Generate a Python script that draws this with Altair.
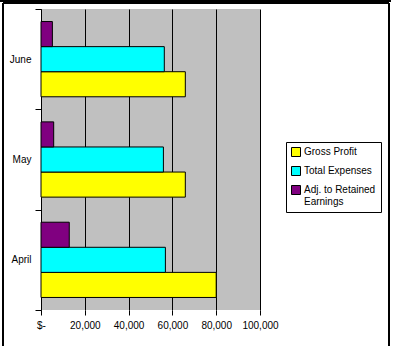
import altair as alt
import pandas as pd

months = ["June", "May", "April"]
series = ["Gross Profit", "Total Expenses", "Adj. to Retained Earnings"]
gross_profit = [65900, 65900, 80000]
total_expenses = [56300, 55900, 56800]
adj_retained = [5200, 5800, 12900]
colors = ["#FFFF00", "#00FFFF", "#800080"]
x_ticks = [0, 20000, 40000, 60000, 80000, 100000]

rows = []
for i, m in enumerate(months):
    rows.append({"month": m, "series": series[0], "value": gross_profit[i]})
    rows.append({"month": m, "series": series[1], "value": total_expenses[i]})
    rows.append({"month": m, "series": series[2], "value": adj_retained[i]})
df = pd.DataFrame(rows)

FONT = "Liberation Sans"

bars = alt.Chart(df).mark_bar(stroke="black", strokeWidth=1).encode(
    x=alt.X("value:Q",
            scale=alt.Scale(domain=[0, 100000], nice=False),
            axis=alt.Axis(values=x_ticks, title=None, grid=True, gridColor="black",
                          gridOpacity=1, gridWidth=1, domain=False,
                          tickColor="black", tickSize=5, labelPadding=5,
                          labelExpr="datum.value == 0 ? '$-' : format(datum.value, ',')",
                          labelFont=FONT, labelFontSize=10, labelColor="black",
                          labelFlush=False)),
    y=alt.Y("month:N", sort=months,
            scale=alt.Scale(paddingInner=0, paddingOuter=0),
            axis=alt.Axis(title=None, tickBand="extent", tickColor="black", tickSize=6,
                          domainColor="black", labelFont=FONT, labelFontSize=10,
                          labelColor="black", labelPadding=4, grid=False)),
    yOffset=alt.YOffset("series:N", sort=series[::-1],
                        scale=alt.Scale(paddingInner=0, paddingOuter=0.5)),
    color=alt.Color("series:N",
                    scale=alt.Scale(domain=series, range=colors),
                    legend=alt.Legend(title=None, orient="none", legendX=245, legendY=133,
                                      strokeColor="black", fillColor="white", padding=5,
                                      symbolType="square", symbolSize=81,
                                      symbolStrokeColor="black", symbolStrokeWidth=1,
                                      labelFont=FONT, labelFontSize=10, labelColor="black",
                                      rowPadding=5, labelLimit=200, labelOffset=3,
                                      labelExpr="datum.label == 'Adj. to Retained Earnings' ? ['Adj. to Retained', 'Earnings'] : datum.label")),
)

left_line = alt.Chart(df).mark_rule(color="black", strokeWidth=1).encode(
    x=alt.value(-38), y=alt.value(-6), y2=alt.value(337)
)
right_line = alt.Chart(df).mark_rule(color="black", strokeWidth=1).encode(
    x=alt.value(348), y=alt.value(-6), y2=alt.value(337)
)
top_line = alt.Chart(df).mark_rule(color="black", strokeWidth=1).encode(
    x=alt.value(-38), x2=alt.value(348), y=alt.value(-6)
)
top_line2 = alt.Chart(df).mark_rule(color="black", strokeWidth=1).encode(
    x=alt.value(-41), x2=alt.value(350), y=alt.value(-8)
)

chart = alt.layer(bars, left_line, right_line, top_line, top_line2).properties(
    width=219, height=301,
    padding={"left": 41, "top": 9, "right": 133, "bottom": 44},
    autosize=alt.AutoSizeParams(type="none"),
    background="white",
).configure_view(stroke=None, fill="#C0C0C0")

chart.save("out.html", embed_options={"renderer": "svg", "actions": False})
